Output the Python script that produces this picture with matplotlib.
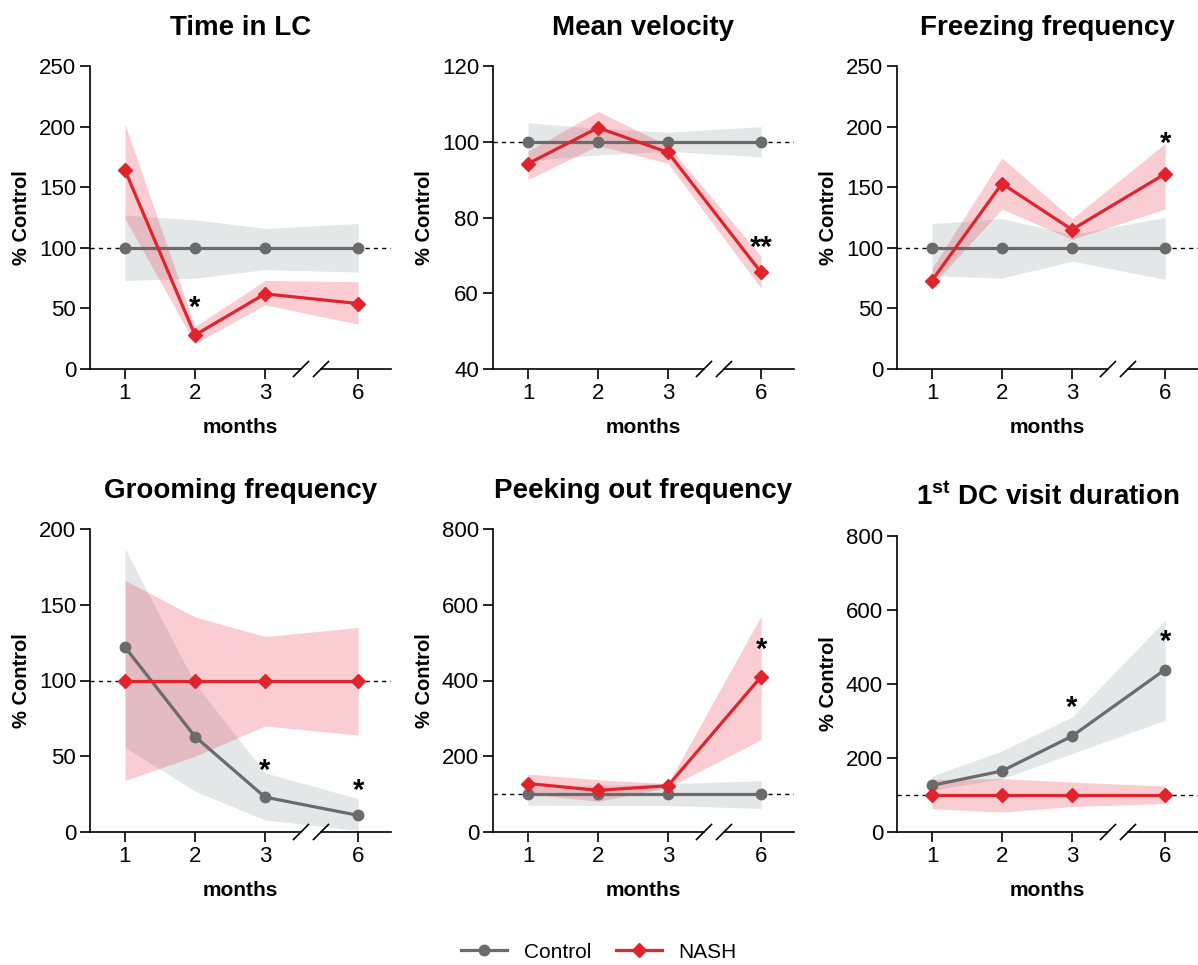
import matplotlib
matplotlib.use("Agg")
import matplotlib.pyplot as plt
from matplotlib.lines import Line2D

plt.rcParams['font.family'] = ['Liberation Sans', 'DejaVu Sans']
plt.rcParams['mathtext.fontset'] = 'custom'
plt.rcParams['mathtext.bf'] = 'Liberation Sans:bold'
plt.rcParams['mathtext.rm'] = 'Liberation Sans'

# months sampled, and where they sit on the broken x axis
months = ['1', '2', '3', '6']
xpos = [1, 2, 3, 4.33]

titles = ["Time in LC", "Mean velocity", "Freezing frequency",
          "Grooming frequency", "Peeking out frequency",
          r"1$^{\mathbf{st}}$ DC visit duration"]

ylims = [(0, 250), (40, 120), (0, 250), (0, 200), (0, 800), (0, 800)]
yticks = [[0, 50, 100, 150, 200, 250],
          [40, 60, 80, 100, 120],
          [0, 50, 100, 150, 200, 250],
          [0, 50, 100, 150, 200],
          [0, 200, 400, 600, 800],
          [0, 200, 400, 600, 800]]

# Control mean and band (upper / lower)
ctrl_mean = [[100, 100, 100, 100],
             [100, 100, 100, 100],
             [100, 100, 100, 100],
             [122, 63, 23, 11],
             [100, 100, 100, 100],
             [126, 165, 259, 439]]
ctrl_hi = [[127, 123, 116, 120],
           [105, 103.5, 102.5, 104],
           [120, 124, 111, 125],
           [187, 98, 39, 22],
           [120, 123, 128, 135],
           [151, 219, 311, 572]]
ctrl_lo = [[73, 75, 82, 80],
           [95, 96.5, 97.5, 96],
           [77, 75, 89, 74],
           [56, 27, 8, 1],
           [71, 70, 70, 62],
           [113, 144, 212, 302]]

# NASH mean and band
nash_mean = [[164, 28, 62, 54],
             [94.2, 103.7, 97.2, 65.5],
             [73, 153, 115, 161],
             [100, 100, 100, 100],
             [128, 110, 122, 410],
             [100, 100, 100, 100]]
nash_hi = [[202, 35, 73, 72],
           [97.5, 108, 99, 69.8],
           [83, 174, 124, 186],
           [166, 142, 129, 135],
           [153, 138, 128, 570],
           [142, 144, 135, 124]]
nash_lo = [[124, 21, 53, 37],
           [90, 99, 94.3, 61.3],
           [69, 132, 107, 132],
           [34, 50, 70, 64],
           [101, 81, 117, 244],
           [63, 54, 69, 77]]

# significance stars: (panel, x index, y, text)
stars = [(0, 1, 50, '*'), (1, 3, 72, '**'), (2, 3, 186, '*'),
         (3, 2, 40, '*'), (3, 3, 27, '*'), (4, 3, 480, '*'),
         (5, 2, 335, '*'), (5, 3, 515, '*')]

gray = '#6b6b6b'
red = '#e0242e'

fig = plt.figure(figsize=(11.98, 9.65), dpi=100)
W, H = 1198.0, 965.0
lefts = [90, 493, 897]
axes = []
for i in range(6):
    row, col = divmod(i, 3)
    if row == 0:
        bot, top = 369, 66
    else:
        bot, top = 832, 529
        if col == 2:
            top = 536
    ax = fig.add_axes([lefts[col] / W, 1 - bot / H, 301 / W, (bot - top) / H])
    axes.append(ax)

for i, ax in enumerate(axes):
    ax.fill_between(xpos, ctrl_lo[i], ctrl_hi[i], color='#b9c3c5', alpha=0.4,
                    lw=0, zorder=1)
    ax.fill_between(xpos, nash_lo[i], nash_hi[i], color='#e8384f', alpha=0.25,
                    lw=0, zorder=1.2)
    ax.axhline(100, color='k', lw=1, ls=(0, (3, 3)), zorder=1.5)
    ax.plot(xpos, ctrl_mean[i], color=gray, lw=2.3, marker='o', ms=7.5, zorder=3)
    ax.plot(xpos, nash_mean[i], color=red, lw=2.3, marker='D', ms=7, zorder=4)

    ax.set_xlim(0.5, 4.8)
    ax.set_ylim(*ylims[i])
    ax.set_yticks(yticks[i])
    ax.set_xticks(xpos)
    ax.set_xticklabels(months)
    ax.tick_params(direction='out', length=7, width=1.2, labelsize=16, pad=3)

    for s in ['top', 'right', 'bottom']:
        ax.spines[s].set_visible(False)
    ax.spines['left'].set_linewidth(1.2)

    # broken x axis
    tr = ax.get_xaxis_transform()
    ax.plot([0.5, 3.514], [0, 0], color='k', lw=1.2, transform=tr, clip_on=False)
    ax.plot([3.80, 4.8], [0, 0], color='k', lw=1.2, transform=tr, clip_on=False)
    hh = 7.5 / ax.bbox.height
    for xc in [3.514, 3.80]:
        ax.plot([xc - 0.107, xc + 0.107], [-hh, hh], color='k', lw=1.2,
                transform=tr, clip_on=False)

    ax.set_title(titles[i], fontsize=20, fontweight='bold', pad=22)
    ax.set_xlabel('months', fontsize=15, fontweight='bold', labelpad=10)
    ax.set_ylabel('% Control', fontsize=14.5, fontweight='bold', labelpad=6)

for p, k, y, t in stars:
    axes[p].text(xpos[k], y, t, ha='center', va='center', fontsize=21,
                 fontweight='bold', zorder=5)

handles = [Line2D([], [], color=gray, lw=2.3, marker='o', ms=7.5),
           Line2D([], [], color=red, lw=2.3, marker='D', ms=7)]
fig.legend(handles, ['Control', 'NASH'], loc='center', ncol=2,
           bbox_to_anchor=(0.5, 1 - 952 / H), frameon=False, fontsize=15,
           handlelength=2.2, columnspacing=1.2)

fig.savefig('out.png', dpi=100)
